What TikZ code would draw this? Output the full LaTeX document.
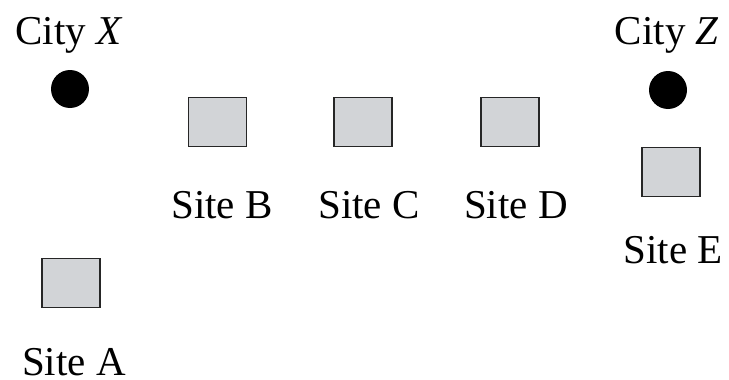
\documentclass[tikz,border=0pt]{standalone}
\usepackage{fontspec}
\setmainfont{Liberation Serif}
\definecolor{siteGray}{RGB}{210,212,215}

\begin{document}
\begin{tikzpicture}[x=1pt,y=-1pt,
  site/.style={draw=black!85,fill=siteGray,line width=1.5pt,minimum width=58pt,minimum height=49pt,inner sep=0pt},
  city/.style={circle,fill=black,minimum size=38pt,inner sep=0pt},
  place name/.style={anchor=base,inner sep=0pt,font=\fontsize{41}{45}\selectfont}]
  \useasboundingbox (0,0) rectangle (729,380);

  % cities
  \node[city] (cX) at (70,89) {};
  \node[city] (cZ) at (668,90) {};
  \node[place name] (lX) at (69,45) {City \textit{X}};
  \node[place name] (lZ) at (667,45) {City \textit{Z}};

  % sites
  \node[site] (sA) at (71,283) {};
  \node[site] (sB) at (217.5,122) {};
  \node[site] (sC) at (363,122) {};
  \node[site] (sD) at (510,122) {};
  \node[site] (sE) at (671,172) {};

  \node[place name] (lA) at (74,375) {Site A};
  \node[place name] (lB) at (222,218) {Site B};
  \node[place name] (lC) at (369,218) {Site C};
  \node[place name] (lD) at (516,218) {Site D};
  \node[place name] (lE) at (673,263) {Site E};
\end{tikzpicture}
\end{document}
